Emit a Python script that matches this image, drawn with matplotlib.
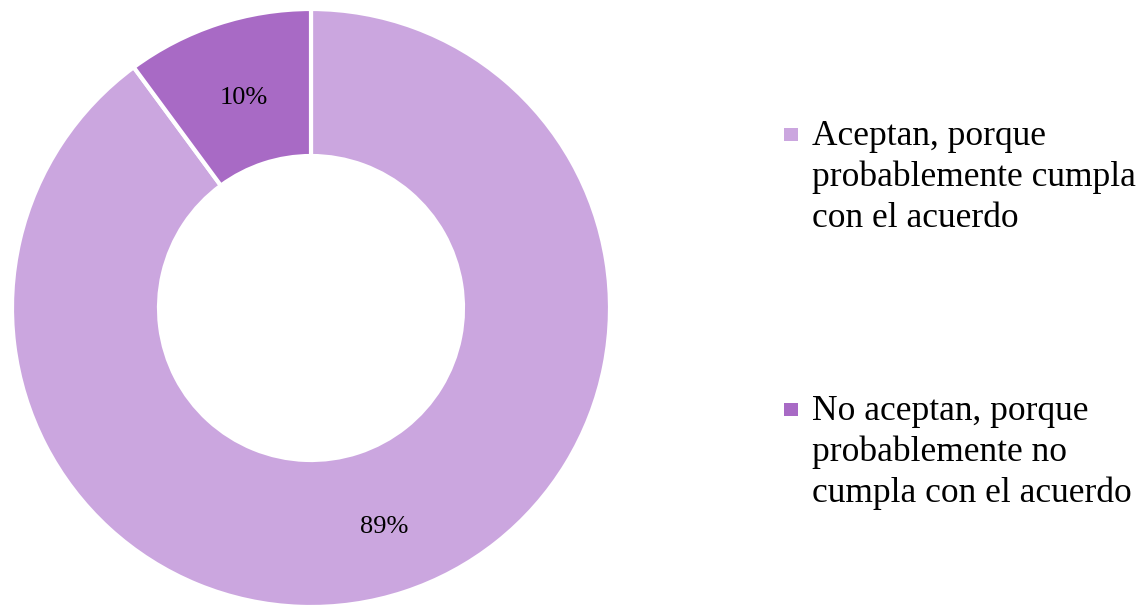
import matplotlib.pyplot as plt
from matplotlib.patches import Rectangle
import numpy as np

# Data
labels = [
    ["Aceptan, porque", "probablemente cumpla", "con el acuerdo"],
    ["No aceptan, porque", "probablemente no", "cumpla con el acuerdo"],
]
values = [89, 10]
pct_labels = ["89%", "10%"]
colors = ["#CBA6DF", "#A86AC5"]

plt.rcParams["font.family"] = ["Liberation Serif", "DejaVu Serif"]

W, H = 1144, 606
fig = plt.figure(figsize=(W / 100, H / 100), dpi=100)
ax = fig.add_axes([(311 - 300) / W, (298 - 300) / H, 600 / W, 600 / H])

wedges, _ = ax.pie(
    values,
    colors=colors,
    startangle=90,
    counterclock=False,
    radius=299 / 300,
    wedgeprops=dict(width=147 / 300, edgecolor="white", linewidth=3),
)
ax.set_xlim(-1, 1)
ax.set_ylim(-1, 1)
ax.set_aspect("equal")

# percentage labels in the middle of the ring
mid_r = (299 + 152) / 2 / 300
for w, txt in zip(wedges, pct_labels):
    ang = np.deg2rad((w.theta1 + w.theta2) / 2)
    ax.text(mid_r * np.cos(ang) + 0.01, mid_r * np.sin(ang) - 0.015, txt,
            ha="center", va="center", fontsize=19, color="black")

# legend drawn by hand: square next to the first line, wrapped label lines
first_baseline = [145, 420]
line_step = 41
for c, lines, base in zip(colors, labels, first_baseline):
    fig.patches.append(Rectangle((784 / W, 1 - (base - 4) / H), 14 / W, 13 / H,
                                 transform=fig.transFigure,
                                 facecolor=c, edgecolor="none"))
    for i, line in enumerate(lines):
        fig.text(812 / W, 1 - (base + i * line_step) / H, line,
                 ha="left", va="baseline", fontsize=25.5, color="black")

fig.savefig("out.png", dpi=100)
